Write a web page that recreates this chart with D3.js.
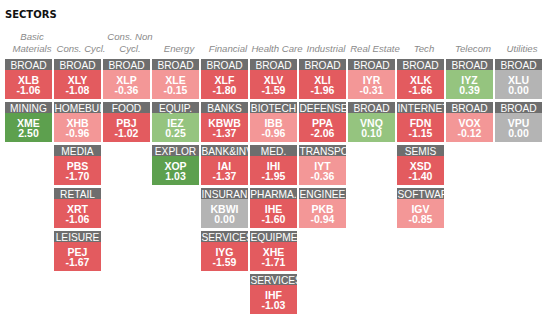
<!DOCTYPE html>
<html>
<head>
<meta charset="utf-8">
<script src="https://cdn.jsdelivr.net/npm/d3@7"></script>
<style>
  body { margin: 0; background: #fff; }
  svg { display: block; }
</style>
</head>
<body>
<div id="chart"></div>
<script>
// Chart size
var svgWidth = 550;
var svgHeight = 321;

// Sector columns
var sectors = [
  ["Basic", "Materials"], ["Cons. Cycl."], ["Cons. Non", "Cycl."], ["Energy"],
  ["Financial"], ["Health Care"], ["Industrial"], ["Real Estate"],
  ["Tech"], ["Telecom"], ["Utilities"]
];

// Group labels, tickers and daily change for each column
var groups = [
  ["BROAD", "MINING"],
  ["BROAD", "HOMEBUILDERS", "MEDIA", "RETAIL", "LEISURE"],
  ["BROAD", "FOOD"],
  ["BROAD", "EQUIP.", "EXPLOR"],
  ["BROAD", "BANKS", "BANK&INV", "INSURANCE", "SERVICES"],
  ["BROAD", "BIOTECH", "MED.", "PHARMA.", "EQUIPMENT", "SERVICES"],
  ["BROAD", "DEFENSE", "TRANSPORT", "ENGINEERING"],
  ["BROAD", "BROAD"],
  ["BROAD", "INTERNET", "SEMIS", "SOFTWARE"],
  ["BROAD", "BROAD"],
  ["BROAD", "BROAD"]
];
var tickers = [
  ["XLB", "XME"],
  ["XLY", "XHB", "PBS", "XRT", "PEJ"],
  ["XLP", "PBJ"],
  ["XLE", "IEZ", "XOP"],
  ["XLF", "KBWB", "IAI", "KBWI", "IYG"],
  ["XLV", "IBB", "IHI", "IHE", "XHE", "IHF"],
  ["XLI", "PPA", "IYT", "PKB"],
  ["IYR", "VNQ"],
  ["XLK", "FDN", "XSD", "IGV"],
  ["IYZ", "VOX"],
  ["XLU", "VPU"]
];
var changes = [
  [-1.06, 2.50],
  [-1.08, -0.96, -1.70, -1.06, -1.67],
  [-0.36, -1.02],
  [-0.15, 0.25, 1.03],
  [-1.80, -1.37, -1.37, 0.00, -1.59],
  [-1.59, -0.96, -1.95, -1.60, -1.71, -1.03],
  [-1.96, -2.06, -0.36, -0.94],
  [-0.31, 0.10],
  [-1.66, -1.15, -1.40, -0.85],
  [0.39, -0.12],
  [0.00, 0.00]
];

// Flatten into cells
var cells = [];
groups.forEach(function(col, i) {
  col.forEach(function(g, j) {
    cells.push({ col: i, row: j, group: g, ticker: tickers[i][j], value: changes[i][j] });
  });
});

var svg = d3.select("#chart").append("svg")
            .attr("width", svgWidth)
            .attr("height", svgHeight);

// Title
svg.append("text")
   .attr("x", 5)
   .attr("y", 17.5)
   .attr("font-family", "DejaVu Sans")
   .attr("font-weight", "bold")
   .attr("font-size", "10px")
   .attr("fill", "#111")
   .text("SECTORS");

// Scales
var xScale = d3.scaleBand()
               .domain(d3.range(sectors.length))
               .range([5, 542])
               .paddingInner(2 / 49)
               .paddingOuter(0);
var yScale = d3.scaleBand()
               .domain(d3.range(6))
               .range([59, 314])
               .paddingInner(3 / 43)
               .paddingOuter(0);
var headerH = 11;

var colorScale = d3.scaleThreshold()
                   .domain([-1, 0, 0.005, 1])
                   .range(["#e35b5f", "#f39797", "#b4b4b4", "#95c47f", "#5da04e"]);

// Column titles
var titles = svg.append("g").selectAll("text")
                .data(sectors)
                .enter()
                .append("text")
                .attr("text-anchor", "middle")
                .attr("font-family", "Liberation Sans, Arial, sans-serif")
                .attr("font-style", "italic")
                .attr("font-size", "9.6px")
                .attr("fill", "#8a8a8a");
titles.each(function(d, i) {
  var t = d3.select(this);
  var cx = xScale(i) + xScale.bandwidth() / 2 + 3.5;
  d.forEach(function(line, k) {
    t.append("tspan")
     .attr("x", cx)
     .attr("y", 51.5 - (d.length - 1 - k) * 11.5)
     .text(line);
  });
});

// Clip paths for each cell
var defs = svg.append("defs");
defs.selectAll("clipPath")
    .data(cells)
    .enter()
    .append("clipPath")
    .attr("id", function(d, i) { return "clip" + i; })
    .append("rect")
    .attr("x", d => xScale(d.col))
    .attr("y", d => yScale(d.row))
    .attr("width", xScale.bandwidth())
    .attr("height", yScale.bandwidth());

var cellGroup = svg.append("g").selectAll("g")
                   .data(cells)
                   .enter()
                   .append("g")
                   .attr("clip-path", function(d, i) { return "url(#clip" + i + ")"; });

// Header band
cellGroup.append("rect")
         .attr("x", d => xScale(d.col))
         .attr("y", d => yScale(d.row))
         .attr("width", xScale.bandwidth())
         .attr("height", headerH)
         .attr("fill", "#6e6e6e");

// Body
cellGroup.append("rect")
         .attr("x", d => xScale(d.col))
         .attr("y", d => yScale(d.row) + headerH)
         .attr("width", xScale.bandwidth())
         .attr("height", yScale.bandwidth() - headerH)
         .attr("fill", d => colorScale(d.value));

// Header label: centred, or cut at the cell edge when it is too long
cellGroup.append("text")
         .attr("font-family", "Liberation Sans, Arial, sans-serif")
         .attr("font-size", "10.2px")
         .attr("fill", "#fff")
         .attr("y", d => yScale(d.row) + 9.5)
         .text(d => d.group)
         .each(function(d) {
           var el = d3.select(this);
           var bw = xScale.bandwidth();
           if (this.getComputedTextLength() > bw - 0.5) {
             // drop the characters that start past the right edge, clip the rest
             var s = d.group;
             while (s.length > 1 && this.getSubStringLength(0, s.length - 1) > bw - 1.5) {
               s = s.slice(0, -1);
               el.text(s);
             }
             el.attr("x", xScale(d.col) + 0.5).attr("text-anchor", "start");
           } else {
             el.attr("x", xScale(d.col) + bw / 2).attr("text-anchor", "middle");
           }
         });

// Ticker
cellGroup.append("text")
         .attr("text-anchor", "middle")
         .attr("font-family", "Liberation Sans, Arial, sans-serif")
         .attr("font-weight", "bold")
         .attr("font-size", "10.5px")
         .attr("fill", "#fff")
         .attr("x", d => xScale(d.col) + xScale.bandwidth() / 2)
         .attr("y", d => yScale(d.row) + 25)
         .text(d => d.ticker);

// Value
cellGroup.append("text")
         .attr("text-anchor", "middle")
         .attr("font-family", "Liberation Sans, Arial, sans-serif")
         .attr("font-weight", "bold")
         .attr("font-size", "10.5px")
         .attr("fill", "#fff")
         .attr("x", d => xScale(d.col) + xScale.bandwidth() / 2)
         .attr("y", d => yScale(d.row) + 35)
         .text(d => d.value.toFixed(2));
</script>
</body>
</html>
